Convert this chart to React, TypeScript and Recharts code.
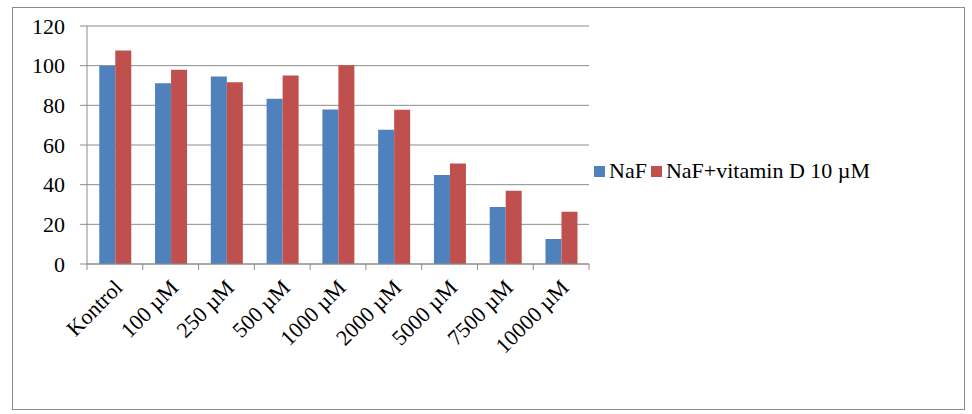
import { Bar, BarChart, CartesianGrid, XAxis, YAxis } from "recharts";

const categories = ["Kontrol", "100 µM", "250 µM", "500 µM", "1000 µM", "2000 µM", "5000 µM", "7500 µM", "10000 µM"];
const naf = [100, 91.1, 94.6, 83.3, 77.9, 67.7, 44.9, 28.8, 12.6];
const nafVitD = [107.7, 98.0, 91.6, 95.1, 100.2, 77.8, 50.7, 36.9, 26.4];
const yTicks = [0, 20, 40, 60, 80, 100, 120];
const seriesNames = ["NaF", "NaF+vitamin D 10 µM"];

const data = categories.map((c, i) => ({ name: c, naf: naf[i], vitd: nafVitD[i] }));

const W = 972;
const H = 414;
const PLOT_LEFT = 87;
const PLOT_RIGHT = 589;
const BAND = (PLOT_RIGHT - PLOT_LEFT) / categories.length;
const GRAY = "#8c8c8c";
const BLUE = "#4f81bd";
const RED = "#c0504d";
const FONT = "'Liberation Serif', 'Times New Roman', serif";

function XTick(props: any) {
  const { x, y, payload, index } = props;
  const left = x - BAND / 2;
  const ax = x + 9;
  const ay = y + 25;
  return (
    <g>
      <line x1={left} y1={y} x2={left} y2={y + 6} stroke={GRAY} />
      {index === categories.length - 1 && (
        <line x1={left + BAND} y1={y} x2={left + BAND} y2={y + 6} stroke={GRAY} />
      )}
      <text
        x={ax}
        y={ay}
        transform={`rotate(-45, ${ax}, ${ay})`}
        textAnchor="end"
        fontFamily={FONT}
        fontSize={22}
        fill="#000"
      >
        {payload.value}
      </text>
    </g>
  );
}

function LegendBox() {
  const colors = [BLUE, RED];
  return (
    <div
      style={{
        position: "absolute",
        left: 594,
        top: 158,
        display: "flex",
        alignItems: "center",
        fontFamily: FONT,
        fontSize: 22,
        color: "#000",
        whiteSpace: "nowrap",
      }}
    >
      {seriesNames.map((label, i) => (
        <span key={label} style={{ display: "flex", alignItems: "center", marginRight: 4 }}>
          <span style={{ width: 11, height: 11, background: colors[i], display: "inline-block", marginRight: 4 }} />
          {label}
        </span>
      ))}
    </div>
  );
}

export default function App() {
  return (
    <div style={{ position: "fixed", left: 0, top: 0, width: W, height: H, background: "#fff" }}>
      <div
        style={{
          position: "absolute",
          left: 12,
          top: 7,
          width: 953,
          height: 403,
          border: `1px solid ${GRAY}`,
          boxSizing: "border-box",
        }}
      />
      <BarChart
        width={W}
        height={H}
        data={data}
        margin={{ top: 26, right: W - PLOT_RIGHT, left: 0, bottom: 0 }}
        barCategoryGap="22%"
        barGap={0}
        style={{ position: "absolute", left: 0, top: 0 }}
      >
        <CartesianGrid vertical={false} stroke={GRAY} />
        <XAxis
          dataKey="name"
          interval={0}
          height={150}
          axisLine={{ stroke: GRAY }}
          tickLine={false}
          tickSize={0}
          tickMargin={0}
          tick={<XTick />}
        />
        <YAxis
          width={PLOT_LEFT}
          domain={[0, 120]}
          ticks={yTicks}
          axisLine={{ stroke: GRAY }}
          tickLine={{ stroke: GRAY }}
          tickSize={7}
          tickMargin={15}
          tick={{ fontFamily: FONT, fontSize: 22, fill: "#000" }}
        />
        <Bar dataKey="naf" name={seriesNames[0]} fill={BLUE} isAnimationActive={false} />
        <Bar dataKey="vitd" name={seriesNames[1]} fill={RED} isAnimationActive={false} />
      </BarChart>
      <LegendBox />
    </div>
  );
}
